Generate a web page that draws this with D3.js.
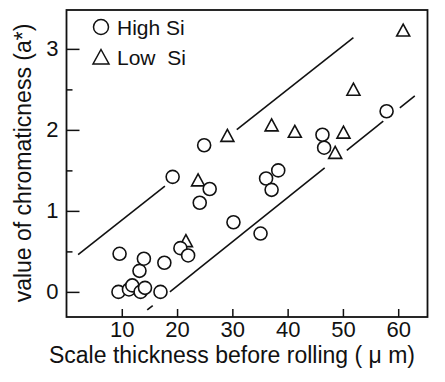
<!DOCTYPE html>
<html>
<head>
<meta charset="utf-8">
<script src="https://cdn.jsdelivr.net/npm/d3@7"></script>
<style>
  body { margin: 0; background: #fff; }
  svg { display: block; font-family: "Liberation Sans", Arial, sans-serif; }
</style>
</head>
<body>
<div id="chart"></div>
<script>
// Datos
const highSiX = [9.4, 9.6, 11.3, 11.9, 13.4, 14.2, 13.2, 14.0, 17.0, 17.7, 19.2, 20.6, 22.0, 24.1, 25.9, 24.9, 30.2, 35.1, 36.1, 37.1, 38.3, 46.3, 46.6, 57.9];
const highSiY = [0.0, 0.47, 0.03, 0.08, 0.0, 0.05, 0.26, 0.41, 0.0, 0.36, 1.42, 0.54, 0.45, 1.1, 1.27, 1.81, 0.86, 0.72, 1.4, 1.26, 1.5, 1.94, 1.78, 2.23];
const lowSiX = [21.6, 23.8, 29.1, 37.1, 41.3, 48.6, 50.1, 51.9, 60.9];
const lowSiY = [0.62, 1.37, 1.92, 2.05, 1.97, 1.71, 1.96, 2.49, 3.22];

// Lineas guia: y = a + b*x, dibujadas por tramos [x0, x1]
const upperLine = { a: 0.347, b: 0.0538, parts: [[2.1, 17.8], [30.8, 51.9]] };
const lowerLine = { a: -1.02, b: 0.0546, parts: [[14.6, 15.6], [18.7, 46.7], [50.7, 57.3], [60.3, 63.0]] };

const xTicks = [10, 20, 30, 40, 50, 60];
const yTicks = [0, 1, 2, 3];
const yMinorTicks = [0.5, 1.5, 2.5];

const width = 445, height = 382;
const svg = d3.select('#chart').append('svg')
    .attr('width', width)
    .attr('height', height);

const x = d3.scaleLinear().domain([0, 65.3]).range([66.5, 427.5]);
const y = d3.scaleLinear().domain([-0.31, 3.48]).range([317, 10]);

// Ejes
svg.append('g')
    .attr('transform', `translate(0,${y.range()[0]})`)
    .call(d3.axisBottom(x).tickValues(xTicks).tickSize(-8).tickPadding(4).tickSizeOuter(0));

svg.append('g')
    .attr('transform', `translate(${x.range()[0]},0)`)
    .call(d3.axisLeft(y).tickValues(yTicks).tickFormat(d3.format('d')).tickSize(-13).tickPadding(8).tickSizeOuter(0));

svg.append('g')
    .attr('transform', `translate(${x.range()[0]},0)`)
    .call(d3.axisLeft(y).tickValues(yMinorTicks).tickSize(-6).tickFormat('').tickSizeOuter(0));

svg.selectAll('.domain').remove();
svg.selectAll('.tick line').attr('stroke', '#111').attr('stroke-width', 1.5);
svg.selectAll('.tick text').attr('font-size', 22).attr('fill', '#111')
    .attr('font-family', '"Liberation Sans", Arial, sans-serif');

// Marco
svg.append('rect')
    .attr('x', x.range()[0])
    .attr('y', y.range()[1])
    .attr('width', x.range()[1] - x.range()[0])
    .attr('height', y.range()[0] - y.range()[1])
    .attr('fill', 'none')
    .attr('stroke', '#111')
    .attr('stroke-width', 1.8);

// Lineas
function drawGuide(g) {
    g.parts.forEach(p => {
        svg.append('line')
            .attr('x1', x(p[0])).attr('y1', y(g.a + g.b * p[0]))
            .attr('x2', x(p[1])).attr('y2', y(g.a + g.b * p[1]))
            .attr('stroke', '#111')
            .attr('stroke-width', 1.6);
    });
}
drawGuide(upperLine);
drawGuide(lowerLine);

// Triangulos (Low Si)
const tri = 'M0,-7L6.5,5L-6.5,5Z';
svg.append('g').selectAll('path')
    .data(lowSiX.map((v, i) => [v, lowSiY[i]]))
    .enter()
    .append('path')
    .attr('d', tri)
    .attr('transform', d => `translate(${x(d[0])},${y(d[1])})`)
    .attr('fill', '#fff')
    .attr('stroke', '#111')
    .attr('stroke-width', 1.6);

// Circulos (High Si)
svg.append('g').selectAll('circle')
    .data(highSiX.map((v, i) => [v, highSiY[i]]))
    .enter()
    .append('circle')
    .attr('cx', d => x(d[0]))
    .attr('cy', d => y(d[1]))
    .attr('r', 6.5)
    .attr('fill', '#fff')
    .attr('stroke', '#111')
    .attr('stroke-width', 1.6);

// Leyenda
const legend = svg.append('g');
legend.append('circle')
    .attr('cx', 101).attr('cy', 27).attr('r', 7.5)
    .attr('fill', 'none').attr('stroke', '#111').attr('stroke-width', 1.5);
legend.append('text')
    .attr('x', 117).attr('y', 35)
    .attr('font-size', 21).attr('fill', '#111')
    .text('High Si');
legend.append('path')
    .attr('d', 'M0,-8.5L8,6L-8,6Z')
    .attr('transform', 'translate(101,58)')
    .attr('fill', 'none').attr('stroke', '#111').attr('stroke-width', 1.5);
legend.append('text')
    .attr('x', 117).attr('y', 65)
    .attr('font-size', 21).attr('fill', '#111')
    .style('white-space', 'pre')
    .text('Low  Si');

// Titulos de los ejes
svg.append('text')
    .attr('x', 232).attr('y', 363)
    .attr('text-anchor', 'middle')
    .attr('font-size', 23).attr('fill', '#111')
    .text('Scale thickness before rolling ( \u03bc m)');

svg.append('text')
    .attr('transform', 'translate(31,163) rotate(-90)')
    .attr('text-anchor', 'middle')
    .attr('font-size', 23).attr('fill', '#111')
    .text('value of chromaticness (a*)');
</script>
</body>
</html>
